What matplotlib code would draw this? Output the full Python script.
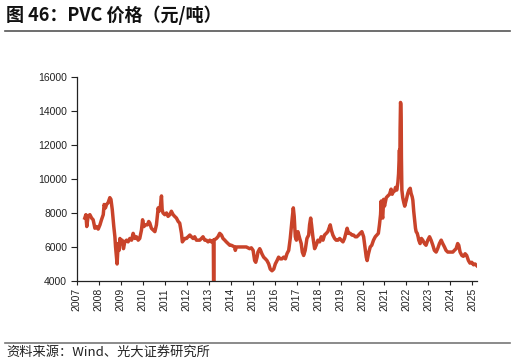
import matplotlib
matplotlib.use("Agg")
import matplotlib.pyplot as plt
from matplotlib.lines import Line2D

# PVC price (yuan/ton), dates as decimal years
years = [
    2007.36, 2007.41, 2007.45, 2007.51, 2007.59, 2007.67, 2007.74, 2007.82, 2007.89, 2007.97,
    2008.05, 2008.12, 2008.20, 2008.24, 2008.30, 2008.35, 2008.42, 2008.50, 2008.55, 2008.61,
    2008.68, 2008.73, 2008.76, 2008.80, 2008.83, 2008.88, 2008.92, 2008.96, 2009.00, 2009.06,
    2009.12, 2009.18, 2009.26, 2009.33, 2009.41, 2009.49, 2009.56, 2009.64, 2009.71, 2009.79,
    2009.86, 2009.94, 2009.99, 2010.05, 2010.12, 2010.21, 2010.27, 2010.32, 2010.39, 2010.47,
    2010.55, 2010.62, 2010.70, 2010.74, 2010.80, 2010.85, 2010.88, 2010.92, 2011.00, 2011.08,
    2011.15, 2011.23, 2011.30, 2011.38, 2011.45, 2011.53, 2011.61, 2011.68, 2011.76, 2011.80,
    2011.91, 2011.99, 2012.06, 2012.14, 2012.21, 2012.29, 2012.36, 2012.44, 2012.59, 2012.67,
    2012.74, 2012.82, 2012.89, 2012.97, 2013.05, 2013.12, 2013.21, 2013.225, 2013.24, 2013.35,
    2013.42, 2013.50, 2013.58, 2013.65, 2013.73, 2013.80, 2013.88, 2013.96, 2014.03, 2014.18,
    2014.21, 2014.26, 2014.41, 2014.56, 2014.71, 2014.86, 2014.94, 2015.02, 2015.09, 2015.14,
    2015.20, 2015.24, 2015.32, 2015.36, 2015.42, 2015.50, 2015.58, 2015.65, 2015.73, 2015.80,
    2015.88, 2015.96, 2016.03, 2016.11, 2016.18, 2016.26, 2016.33, 2016.41, 2016.49, 2016.56,
    2016.64, 2016.71, 2016.76, 2016.80, 2016.85, 2016.89, 2016.94, 2016.99, 2017.06, 2017.14,
    2017.21, 2017.26, 2017.32, 2017.39, 2017.47, 2017.55, 2017.59, 2017.64, 2017.68, 2017.74,
    2017.82, 2017.89, 2017.97, 2018.05, 2018.12, 2018.20, 2018.27, 2018.35, 2018.42, 2018.53,
    2018.58, 2018.65, 2018.73, 2018.80, 2018.88, 2018.96, 2019.03, 2019.11, 2019.18, 2019.26,
    2019.30, 2019.36, 2019.44, 2019.52, 2019.59, 2019.67, 2019.74, 2019.82, 2019.89, 2019.97,
    2020.05, 2020.12, 2020.17, 2020.21, 2020.27, 2020.35, 2020.42, 2020.50, 2020.58, 2020.65,
    2020.72, 2020.77, 2020.82, 2020.85, 2020.88, 2020.92, 2020.96, 2021.00, 2021.05, 2021.08,
    2021.15, 2021.23, 2021.30, 2021.35, 2021.38, 2021.46, 2021.50, 2021.56, 2021.61, 2021.64,
    2021.67, 2021.68, 2021.70, 2021.71, 2021.73, 2021.74, 2021.76, 2021.77, 2021.79, 2021.83,
    2021.88, 2021.92, 2021.99, 2022.06, 2022.11, 2022.17, 2022.21, 2022.26, 2022.29, 2022.33,
    2022.38, 2022.41, 2022.44, 2022.49, 2022.53, 2022.56, 2022.62, 2022.68, 2022.74, 2022.82,
    2022.89, 2022.97, 2023.05, 2023.12, 2023.20, 2023.27, 2023.35, 2023.42, 2023.50, 2023.58,
    2023.65, 2023.73, 2023.80, 2023.88, 2023.96, 2024.03, 2024.11, 2024.18, 2024.26, 2024.33,
    2024.38, 2024.44, 2024.52, 2024.59, 2024.67, 2024.74, 2024.82, 2024.89, 2024.97, 2025.05,
    2025.12, 2025.20,
]
prices = [
    7700, 7900, 7200, 7800, 7900, 7700, 7600, 7100, 7200, 7050,
    7300, 7600, 7900, 8500, 8300, 8500, 8600, 8900, 8800, 8200,
    7200, 6600, 6000, 5400, 5000, 6200, 5800, 6500, 6300, 6400,
    5900, 6300, 6400, 6300, 6500, 6400, 6800, 6500, 6600, 6400,
    6500, 7000, 7600, 7200, 7300, 7300, 7500, 7400, 7100, 7000,
    6900, 7300, 8300, 8100, 8400, 9000, 8200, 8000, 7900, 8000,
    7800, 7900, 8100, 7900, 7800, 7700, 7500, 7400, 6800, 6300,
    6500, 6500, 6600, 6700, 6600, 6500, 6600, 6400, 6400, 6500,
    6600, 6400, 6400, 6300, 6400, 6300, 6400, 3000, 6400, 6500,
    6600, 6800, 6700, 6500, 6400, 6300, 6200, 6100, 6100, 6000,
    5800, 6000, 6000, 6000, 6000, 5900, 5950, 5800, 5200, 5100,
    5400, 5700, 5900, 5800, 5600, 5400, 5300, 5200, 5000, 4700,
    4600, 4700, 5000, 5200, 5400, 5300, 5300, 5400, 5300, 5600,
    5800, 6500, 7200, 7700, 8300, 7800, 6600, 6400, 6900, 6500,
    6200, 5700, 5500, 5800, 6500, 6700, 7300, 7700, 7300, 6600,
    5900, 6100, 6400, 6300, 6600, 6400, 6700, 6800, 6900, 7300,
    7000, 6700, 6500, 6400, 6400, 6500, 6400, 6300, 6500, 6900,
    7100, 6800, 6800, 6700, 6700, 6600, 6600, 6700, 6800, 6900,
    6600, 5900, 5400, 5200, 5600, 6000, 6100, 6400, 6600, 6700,
    6800, 7300, 7900, 8700, 7900, 7700, 8800, 8400, 8700, 8900,
    9000, 9100, 9400, 9100, 9200, 9300, 9500, 9350, 9800, 10300,
    11300, 11700, 10800, 12900, 14500, 14400, 13500, 11300, 9350, 8900,
    8600, 8400, 8750, 9150, 9350, 9450, 9150, 8950, 8750, 8100,
    7500, 7100, 6900, 6800, 6600, 6400, 6200, 6500, 6400, 6200,
    6100, 6400, 6600, 6400, 6100, 5800, 5700, 5900, 6200, 6400,
    6200, 6000, 5800, 5700, 5700, 5700, 5700, 5800, 5900, 6200,
    6100, 5700, 5500, 5450, 5600, 5500, 5200, 5050, 5100, 4950,
    5000, 4900,
]
tick_years = list(range(2007, 2026))
yticks = [4000, 6000, 8000, 10000, 12000, 14000, 16000]

title = "图 46：PVC 价格（元/吨）"
source = "资料来源：Wind、光大证券研究所"

cjk = ["Noto Sans CJK SC", "DejaVu Sans"]
plt.rcParams["font.family"] = ["Liberation Sans", "DejaVu Sans"]

fig = plt.figure(figsize=(5.16, 3.63), dpi=100)
ax = fig.add_axes([0.149, 0.226, 0.775, 0.562])

ax.plot(years, prices, color="#c9432a", lw=2.5, solid_joinstyle="round")

ax.set_xlim(2007, 2025.2)
ax.set_ylim(4000, 16000)
ax.set_xticks(tick_years)
ax.set_xticklabels([str(y) for y in tick_years], rotation=90, fontsize=7.5)
ax.set_yticks(yticks)
ax.set_yticklabels([str(v) for v in yticks], fontsize=7.5)
ax.tick_params(axis="x", length=3, width=0.8, pad=2, colors="#222222")
ax.tick_params(axis="y", length=4, width=0.8, pad=3, colors="#222222")
for side in ["top", "right"]:
    ax.spines[side].set_visible(False)
for side in ["left", "bottom"]:
    ax.spines[side].set_color("#222222")
    ax.spines[side].set_linewidth(0.9)

fig.text(0.012, 0.958, title, fontsize=13, fontweight="bold", family=cjk,
         va="center", ha="left", color="#111111")
fig.add_artist(Line2D([0.010, 0.988], [0.9146, 0.9146], color="#555555", lw=1.2))
fig.add_artist(Line2D([0.010, 0.988], [0.056, 0.056], color="#777777", lw=1.2))
fig.text(0.012, 0.030, source, fontsize=9.5, family=cjk, va="center", ha="left",
         color="#222222")

fig.savefig("out.png", dpi=100)
